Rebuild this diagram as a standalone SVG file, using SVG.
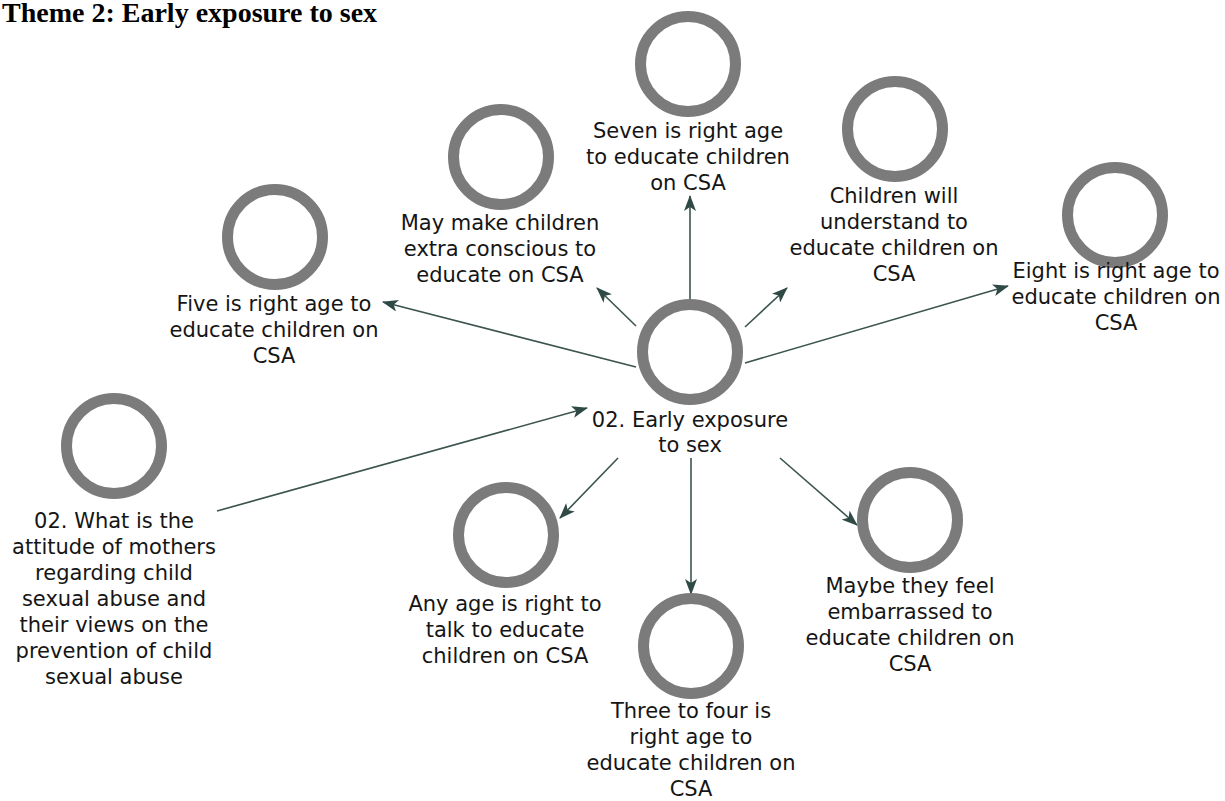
<svg xmlns="http://www.w3.org/2000/svg" width="1225" height="801" viewBox="0 0 1225 801">
<style>
.ring{fill:none;stroke:#7b7b7b;stroke-width:11}
.lbl{font-family:"DejaVu Sans",sans-serif;font-size:21px;fill:#151515;text-anchor:middle}
.edge{stroke:#3b544f;stroke-width:1.6;fill:none;marker-end:url(#ah)}
.title{font-family:"Liberation Serif",serif;font-weight:bold;font-size:28px;fill:#000}
</style>
<defs>
<marker id="ah" markerUnits="userSpaceOnUse" markerWidth="16" markerHeight="12" refX="15" refY="6" orient="auto">
<path d="M0,0 L16,6 L0,12 L4,6 z" fill="#2f4a45"/>
</marker>
</defs>
<rect width="1225" height="801" fill="#fff"/>
<text class="title" x="2" y="22">Theme 2: Early exposure to sex</text>
<g id="connectors">
<line class="edge" x1="636" y1="367" x2="383" y2="302"/>
<line class="edge" x1="636" y1="326" x2="597" y2="288"/>
<line class="edge" x1="690" y1="299" x2="690" y2="196"/>
<line class="edge" x1="745" y1="327" x2="787" y2="288"/>
<line class="edge" x1="745" y1="363" x2="1008" y2="286"/>
<line class="edge" x1="217" y1="511" x2="587" y2="408"/>
<line class="edge" x1="618" y1="458" x2="560" y2="518"/>
<line class="edge" x1="691" y1="458" x2="691" y2="594"/>
<line class="edge" x1="780" y1="458" x2="857" y2="525"/>
</g>
<g id="n-center">
<circle class="ring" cx="690" cy="352" r="47.5"/>
<text class="lbl" x="690" y="427">02. Early exposure</text>
<text class="lbl" x="690" y="452">to sex</text>
</g>
<g id="n-five">
<circle class="ring" cx="275" cy="237" r="47.5"/>
<text class="lbl" x="274" y="311">Five is right age to</text>
<text class="lbl" x="274" y="337">educate children on</text>
<text class="lbl" x="274" y="363">CSA</text>
</g>
<g id="n-may">
<circle class="ring" cx="501" cy="157" r="47.5"/>
<text class="lbl" x="500" y="230">May make children</text>
<text class="lbl" x="500" y="256">extra conscious to</text>
<text class="lbl" x="500" y="282">educate on CSA</text>
</g>
<g id="n-seven">
<circle class="ring" cx="688" cy="64" r="47.5"/>
<text class="lbl" x="688" y="138">Seven is right age</text>
<text class="lbl" x="688" y="164">to educate children</text>
<text class="lbl" x="688" y="190">on CSA</text>
</g>
<g id="n-children">
<circle class="ring" cx="895" cy="129" r="47.5"/>
<text class="lbl" x="894" y="203">Children will</text>
<text class="lbl" x="894" y="229">understand to</text>
<text class="lbl" x="894" y="255">educate children on</text>
<text class="lbl" x="894" y="281">CSA</text>
</g>
<g id="n-eight">
<circle class="ring" cx="1115" cy="215" r="47.5"/>
<text class="lbl" x="1116" y="278">Eight is right age to</text>
<text class="lbl" x="1116" y="304">educate children on</text>
<text class="lbl" x="1116" y="330">CSA</text>
</g>
<g id="n-question">
<circle class="ring" cx="114" cy="446" r="47.5"/>
<text class="lbl" x="114" y="528">02. What is the</text>
<text class="lbl" x="114" y="554">attitude of mothers</text>
<text class="lbl" x="114" y="580">regarding child</text>
<text class="lbl" x="114" y="606">sexual abuse and</text>
<text class="lbl" x="114" y="632">their views on the</text>
<text class="lbl" x="114" y="658">prevention of child</text>
<text class="lbl" x="114" y="684">sexual abuse</text>
</g>
<g id="n-anyage">
<circle class="ring" cx="506" cy="535" r="47.5"/>
<text class="lbl" x="505" y="611">Any age is right to</text>
<text class="lbl" x="505" y="637">talk to educate</text>
<text class="lbl" x="505" y="663">children on CSA</text>
</g>
<g id="n-three">
<circle class="ring" cx="691" cy="646" r="47.5"/>
<text class="lbl" x="691" y="718">Three to four is</text>
<text class="lbl" x="691" y="744">right age to</text>
<text class="lbl" x="691" y="770">educate children on</text>
<text class="lbl" x="691" y="796">CSA</text>
</g>
<g id="n-maybe">
<circle class="ring" cx="910" cy="520" r="47.5"/>
<text class="lbl" x="910" y="593">Maybe they feel</text>
<text class="lbl" x="910" y="619">embarrassed to</text>
<text class="lbl" x="910" y="645">educate children on</text>
<text class="lbl" x="910" y="671">CSA</text>
</g>
</svg>
